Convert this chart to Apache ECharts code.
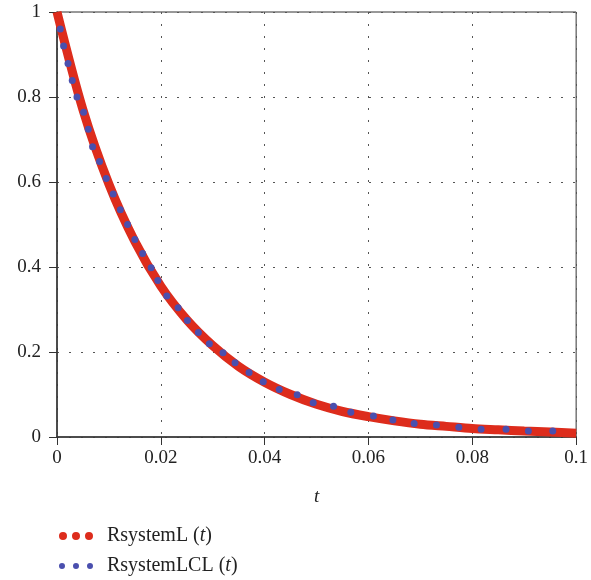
<!DOCTYPE html>
<html>
<head>
<meta charset="utf-8">
<script src="https://cdn.jsdelivr.net/npm/echarts@6/dist/echarts.min.js"></script>
<style>html,body{margin:0;padding:0;background:#fff}#c{width:591px;height:580px}</style>
</head>
<body>
<div id="c"></div>
<script>
// Red series: RsystemL(t)
var tL = [0, 0.005, 0.01, 0.015, 0.02, 0.025, 0.03, 0.035, 0.04, 0.045, 0.05, 0.055, 0.06, 0.065, 0.07, 0.075, 0.08, 0.085, 0.09, 0.095, 0.1];
var yL = [1.0, 0.77, 0.595, 0.46, 0.355, 0.276, 0.215, 0.166, 0.129, 0.10, 0.077, 0.060, 0.048, 0.038, 0.030, 0.025, 0.020, 0.017, 0.014, 0.012, 0.009];
// Blue series: RsystemLCL(t) (dots as read)
var tLCL = [0.00063, 0.00127, 0.00212, 0.00294, 0.00385, 0.00512, 0.00602, 0.00685, 0.00819, 0.00948, 0.01083,
  0.0122, 0.0136, 0.0150, 0.0165, 0.01813, 0.01942, 0.02115, 0.02333, 0.02512, 0.02723, 0.02935, 0.03198,
  0.0343, 0.0370, 0.03973, 0.04281, 0.04627, 0.04935, 0.05327, 0.0566, 0.06096,
  0.0647, 0.0688, 0.0731, 0.0774, 0.0817, 0.0865, 0.0908, 0.0955];
var yLCL = [0.96, 0.92, 0.879, 0.839, 0.80, 0.764, 0.724, 0.683, 0.648, 0.608, 0.572,
  0.535, 0.500, 0.465, 0.432, 0.398, 0.368, 0.332, 0.304, 0.274, 0.246, 0.2195, 0.198,
  0.175, 0.152, 0.130, 0.112, 0.0995, 0.0807, 0.0722, 0.058, 0.0494,
  0.040, 0.032, 0.028, 0.023, 0.018, 0.018, 0.014, 0.014];
var xTicks = [0, 0.02, 0.04, 0.06, 0.08, 0.1];
var yTicks = [0, 0.2, 0.4, 0.6, 0.8, 1];
var seriesNames = ['RsystemL', 'RsystemLCL'];

function zip(a, b) { return a.map(function (v, i) { return [v, b[i]]; }); }

var FONT = 'Liberation Serif';
var redIcon = 'path://M0,4a4,4 0 1,0 8,0a4,4 0 1,0 -8,0M13,4a4,4 0 1,0 8,0a4,4 0 1,0 -8,0M26,4a4,4 0 1,0 8,0a4,4 0 1,0 -8,0';
var blueIcon = 'path://M0,3a3,3 0 1,0 6,0a3,3 0 1,0 -6,0M14,3a3,3 0 1,0 6,0a3,3 0 1,0 -6,0M28,3a3,3 0 1,0 6,0a3,3 0 1,0 -6,0';
var legendText = {
  fontFamily: FONT, fontSize: 20, color: '#222', padding: [0, 0, 0, 9],
  rich: { i: { fontFamily: FONT, fontSize: 20, fontStyle: 'italic', color: '#222' } }
};
function legendFmt(n) { return n + ' ({i|t})'; }

var chart = echarts.init(document.getElementById('c'));
chart.setOption({
  animation: false,
  backgroundColor: '#fff',
  grid: { left: 57, right: 13, top: 12, bottom: 143, show: true, borderColor: '#333', borderWidth: 1 },
  legend: [
    { data: [{ name: seriesNames[0], icon: redIcon }], orient: 'vertical', left: 54, top: 521,
      itemWidth: 34, itemHeight: 8, formatter: legendFmt, textStyle: legendText },
    { data: [{ name: seriesNames[1], icon: blueIcon }], orient: 'vertical', left: 54, top: 551,
      itemWidth: 34, itemHeight: 6, formatter: legendFmt, textStyle: legendText }
  ],
  xAxis: {
    type: 'value', min: xTicks[0], max: xTicks[xTicks.length - 1], interval: 0.02,
    name: 't', nameLocation: 'middle', nameGap: 50,
    nameTextStyle: { fontFamily: FONT, fontSize: 19, fontStyle: 'italic', color: '#222' },
    axisLine: { show: true, lineStyle: { color: '#333', width: 1.5 } },
    axisTick: { show: true, length: 8, inside: false, lineStyle: { color: '#333' } },
    axisLabel: { fontFamily: FONT, fontSize: 19, color: '#222', margin: 12,
      formatter: function (v) { return String(Math.round(v * 100) / 100); } },
    splitLine: { show: true, lineStyle: { color: '#555', type: [2, 10], width: 1 } }
  },
  yAxis: {
    type: 'value', min: yTicks[0], max: yTicks[yTicks.length - 1], interval: 0.2,
    axisLine: { show: true, lineStyle: { color: '#333', width: 1.5 } },
    axisTick: { show: true, length: 8, inside: false, lineStyle: { color: '#333' } },
    axisLabel: { fontFamily: FONT, fontSize: 19, color: '#222', margin: 16,
      formatter: function (v) { return String(Math.round(v * 10) / 10); } },
    splitLine: { show: true, lineStyle: { color: '#555', type: [2, 10], width: 1 } }
  },
  series: [
    { name: seriesNames[0], type: 'line', data: zip(tL, yL), smooth: 0.3, showSymbol: false,
      color: '#dd2c1c', lineStyle: { color: '#dd2c1c', width: 9 }, z: 2 },
    { name: seriesNames[1], type: 'line', data: zip(tLCL, yLCL), showSymbol: true, showAllSymbol: true,
      symbol: 'circle', symbolSize: 7, color: '#4a4fae', itemStyle: { color: '#4a4fae' },
      lineStyle: { width: 0, opacity: 0 }, z: 3 }
  ]
});
</script>
</body>
</html>
